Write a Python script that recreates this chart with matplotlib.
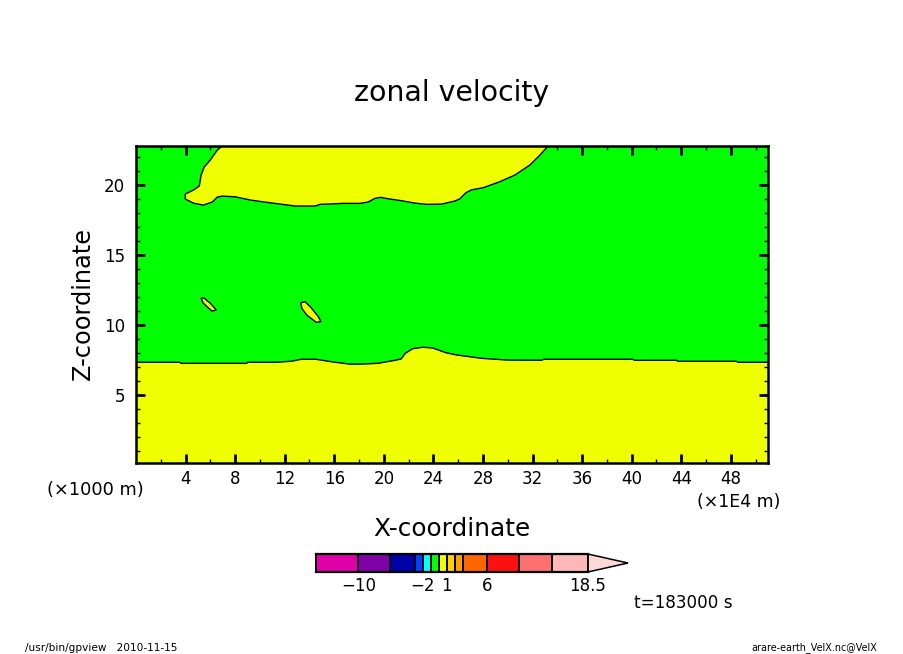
import matplotlib
matplotlib.use("Agg")
import matplotlib.pyplot as plt
import numpy as np
from matplotlib.patches import Polygon
from matplotlib.colors import BoundaryNorm, ListedColormap

W, H = 904, 654
GREEN = "#00ff00"
YELLOW = "#f0ff00"

# lower contour (top of lower yellow layer)
low_x = [0, 3.52, 3.66, 8.9, 9.03, 11.31, 12.52, 13.33, 14.54, 15.88, 17.22, 18.16, 19.5, 20.72, 21.39, 21.73,
         22.33, 23.13, 23.94, 25.01, 25.87, 27.89, 29.9, 32.72, 32.91, 40.08, 40.24, 43.6, 43.71, 48.44, 48.55, 51]
low_z = [7.34, 7.34, 7.26, 7.26, 7.34, 7.34, 7.41, 7.55, 7.55, 7.36, 7.21, 7.21, 7.26, 7.45, 7.57, 7.98,
         8.31, 8.41, 8.36, 8.02, 7.86, 7.62, 7.5, 7.48, 7.55, 7.55, 7.48, 7.48, 7.41, 7.41, 7.34, 7.34]

# upper yellow region outline
up_x = [6.96, 6.56, 6.0, 5.51, 5.25, 5.11, 4.63, 3.98, 3.98, 4.63, 5.43, 6.16, 6.56, 6.96, 8.01, 9.22, 10.59,
        12.85, 14.46, 14.86, 16.71, 18.08, 18.73, 19.29, 19.75, 20.34, 21.44, 22.51, 23.46, 24.67, 25.74, 26.14,
        26.62, 27.08, 28.02, 29.36, 30.57, 31.78, 32.59, 33.26]
up_z = [22.79, 22.5, 21.79, 21.29, 20.71, 19.93, 19.64, 19.36, 19.0, 18.71, 18.57, 18.79, 19.14, 19.21, 19.16,
        18.93, 18.76, 18.5, 18.5, 18.62, 18.69, 18.69, 18.79, 19.05, 19.12, 19.02, 18.88, 18.71, 18.62, 18.64,
        18.86, 19.02, 19.45, 19.66, 19.81, 20.24, 20.71, 21.43, 22.14, 22.79]

isle1_x = [5.25, 5.51, 6.0, 6.48, 6.13, 5.73, 5.41]
isle1_z = [11.93, 11.91, 11.55, 11.07, 11.0, 11.31, 11.59]
isle2_x = [13.3, 13.65, 14.11, 14.72, 14.92, 14.54, 13.79, 13.38]
isle2_z = [11.59, 11.66, 11.26, 10.59, 10.24, 10.19, 10.71, 11.19]

x_ticks = [4, 8, 12, 16, 20, 24, 28, 32, 36, 40, 44, 48]
z_ticks = [5, 10, 15, 20]

cb_levels = [-15.25, -10, -6, -3, -2, -1, 0, 1, 2, 3, 6, 10, 14, 18.5]
cb_colors = ["#e000a8", "#8000a8", "#0000a8", "#0040ff", "#00ffff", "#00ff00", "#f0ff00",
             "#ffd000", "#ffa000", "#ff6600", "#ff1010", "#ff7070", "#ffb8b8"]
cb_labels = [-10, -2, 1, 6, 18.5]
cb_tip = 23.5


def tx(px, py, s, **kw):
    kw.setdefault("ha", "center")
    kw.setdefault("va", "center")
    kw.setdefault("color", "black")
    fig.text(px / W, 1 - py / H, s, **kw)


fig = plt.figure(figsize=(W / 100, H / 100), dpi=100, facecolor="white")
plt.rcParams["font.family"] = "DejaVu Sans"

ax = fig.add_axes([136 / W, 1 - 463 / H, (768 - 136) / W, (463 - 146) / H])
ax.set_xlim(0, 51)
ax.set_ylim(0.14, 22.79)
ax.set_facecolor(GREEN)

ax.fill_between(low_x, 0.14, low_z, color=YELLOW, lw=0, zorder=1)
ax.plot(low_x, low_z, color="black", lw=1.0, zorder=2)
for xs, zs in [(up_x, up_z), (isle1_x, isle1_z), (isle2_x, isle2_z)]:
    closed = xs is not up_x
    ax.add_patch(Polygon(np.column_stack([xs, zs]), closed=closed, fc=YELLOW, ec="black", lw=1.0, zorder=2))

ax.set_xticks(x_ticks)
ax.set_xticks(np.arange(2, 51, 4), minor=True)
ax.set_yticks(z_ticks)
ax.set_yticks(np.arange(1, 23, 1), minor=True)
ax.tick_params(which="major", direction="in", length=6.2, width=2, top=True, right=True, labelsize=12)
ax.tick_params(which="minor", direction="in", length=3.2, width=1, top=True, right=True)
ax.tick_params(axis="x", which="major", pad=5)
ax.tick_params(axis="y", which="major", pad=8)
for s in ax.spines.values():
    s.set_linewidth(1.8)
    s.set_zorder(5)

tx(452, 93, "zonal velocity", fontsize=20.4)
tx(452, 529, "X-coordinate", fontsize=17.8)
tx(83, 304, "Z-coordinate", fontsize=17.3, rotation=90)
tx(95.5, 490, "(×1000 m)", fontsize=12.8)
tx(739, 502, "(×1E4 m)", fontsize=12.5)
tx(683.5, 603, "t=183000 s", fontsize=12.1)
tx(101, 648, "/usr/bin/gpview   2010-11-15", fontsize=7.6)
tx(814.5, 648, "arare-earth_VelX.nc@VelX", fontsize=6.9)

# colour bar
cax = fig.add_axes([316 / W, 1 - 572 / H, (628 - 316) / W, 18 / H])
cax.set_xlim(cb_levels[0], cb_tip)
cax.set_ylim(0, 1)
cax.axis("off")
cmap = ListedColormap(cb_colors)
norm = BoundaryNorm(cb_levels, cmap.N)
cax.pcolormesh(cb_levels, [0, 1], np.array([cb_levels[:-1]]) + 0.01, cmap=cmap, norm=norm, edgecolors="none")
for lv in cb_levels:
    cax.plot([lv, lv], [0, 1], color="black", lw=1.4, clip_on=False)
cax.plot([cb_levels[0], cb_levels[-1]], [0, 0], color="black", lw=1.6, clip_on=False)
cax.plot([cb_levels[0], cb_levels[-1]], [1, 1], color="black", lw=1.6, clip_on=False)
cax.add_patch(Polygon([[cb_levels[-1], 0], [cb_tip, 0.5], [cb_levels[-1], 1]], closed=True, fc="#ffd8d8", ec="black",
                      lw=1.1, clip_on=False))
for v in cb_labels:
    lab = f"{v:g}".replace("-", "\u2212")
    cax.annotate(lab, xy=(v, 0), xytext=(0, -10), textcoords="offset points", ha="center", va="center",
                 fontsize=12, annotation_clip=False)

fig.savefig("out.png", dpi=100, facecolor="white")
